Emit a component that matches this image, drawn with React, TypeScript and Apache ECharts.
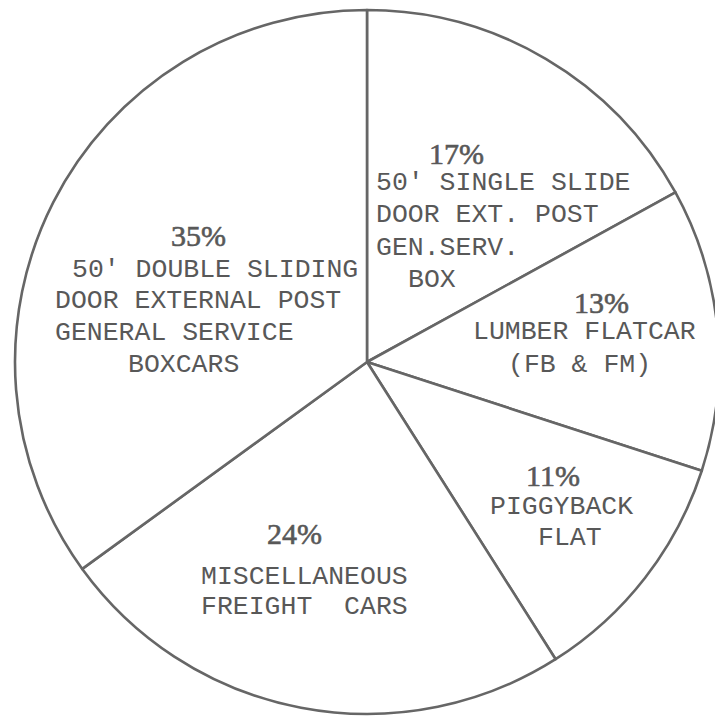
import React, { useEffect, useRef } from "react";
import * as echarts from "echarts";

// Shares of the fleet (percent), in clockwise order from 12 o'clock
const shares = [17, 13, 11, 24, 35];
const categoryLines = [
  ["50' SINGLE SLIDE", "DOOR EXT. POST", "GEN.SERV.", "BOX"],
  ["LUMBER FLATCAR", "(FB & FM)"],
  ["PIGGYBACK", "FLAT"],
  ["MISCELLANEOUS", "FREIGHT\u00a0 CARS"],
  ["50' DOUBLE SLIDING", "DOOR EXTERNAL POST", "GENERAL SERVICE", "BOXCARS"],
];

// Label placement (left x, middle y) — layout only
const pctPos: number[][] = [
  [429, 153],
  [574, 302],
  [526, 475],
  [267, 533],
  [171, 235],
];
const linePos: number[][][] = [
  [[376, 183], [376, 215], [376, 248], [408, 280]],
  [[473, 332], [508, 365]],
  [[490, 507], [538, 538]],
  [[201, 577], [201, 607]],
  [[72, 270], [55, 301], [55, 333], [128, 365]],
];

const INK = "#585858";

export default function App() {
  const ref = useRef<HTMLDivElement>(null);
  useEffect(() => {
    if (!ref.current) return;
    const chart = echarts.init(ref.current, undefined, { renderer: "svg" });
    const texts: any[] = [];
    shares.forEach((v, i) => {
      texts.push({
        type: "text",
        x: pctPos[i][0],
        y: pctPos[i][1],
        z: 100,
        silent: true,
        style: {
          text: v + "%",
          font: '30px "Liberation Serif", "Times New Roman", serif',
          fill: INK,
          stroke: INK,
          lineWidth: 0.6,
          align: "left",
          verticalAlign: "middle",
        },
      });
      categoryLines[i].forEach((line, j) => {
        texts.push({
          type: "text",
          x: linePos[i][j][0],
          y: linePos[i][j][1],
          z: 100,
          silent: true,
          style: {
            text: line,
            font: '26.5px "Liberation Mono", "Courier New", monospace',
            fill: INK,
            align: "left",
            verticalAlign: "middle",
          },
        });
      });
    });
    chart.setOption({
      animation: false,
      backgroundColor: "#ffffff",
      graphic: { elements: texts },
      series: [
        {
          type: "pie",
          center: [367, 362],
          radius: 352,
          startAngle: 90,
          clockwise: true,
          silent: true,
          label: { show: false },
          labelLine: { show: false },
          emphasis: { disabled: true },
          itemStyle: {
            color: "#ffffff",
            borderColor: "#666666",
            borderWidth: 2.6,
          },
          data: shares.map((v, i) => ({
            value: v,
            name: categoryLines[i].join(" "),
          })),
        },
      ],
    });
    return () => chart.dispose();
  }, []);
  return (
    <div
      ref={ref}
      style={{ position: "fixed", left: 0, top: 0, width: 715, height: 719 }}
    />
  );
}
